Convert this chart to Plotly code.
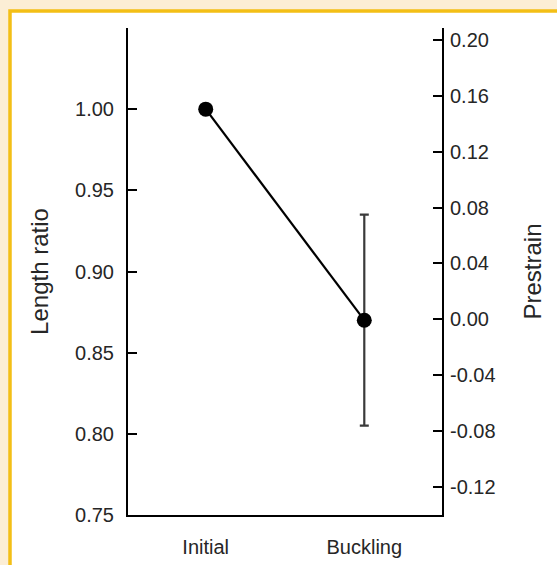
import plotly.graph_objects as go

# Data
categories = ["Initial", "Buckling"]
length_ratio = [1.00, 0.870]
error_plus = [None, 0.065]
error_minus = [None, 0.065]
prestrain = [0.149, 0.0]

left_ticks = [0.75, 0.80, 0.85, 0.90, 0.95, 1.00, 1.05]
left_ticktext = ["0.75", "0.80", "0.85", "0.90", "0.95", "1.00", ""]
right_ticks = [-0.12, -0.08, -0.04, 0.00, 0.04, 0.08, 0.12, 0.16, 0.20]
right_ticktext = ["-0.12", "-0.08", "-0.04", "0.00", "0.04", "0.08", "0.12", "0.16", "0.20"]

FONT = "Liberation Sans, Arial, Helvetica, sans-serif"
TXT = "#262626"
W, H = 557, 565
ML, MR, MT, MB = 128, 115, 28, 50
pw = W - ML - MR
ph = H - MT - MB

def px_x(p):
    return (p - ML) / pw

def px_y(p):
    return (H - MB - p) / ph

fig = go.Figure()

fig.add_trace(go.Scatter(
    x=categories, y=length_ratio, mode="lines+markers",
    line=dict(color="black", width=2.2),
    marker=dict(color="black", size=15),
    error_y=dict(type="data", symmetric=False,
                 array=[0 if v is None else v for v in error_plus],
                 arrayminus=[0 if v is None else v for v in error_minus],
                 color="#3a3a3a", thickness=2.2, width=4.5),
    hoverinfo="skip", showlegend=False,
))

fig.add_trace(go.Scatter(
    x=categories, y=prestrain, yaxis="y2", mode="markers",
    marker=dict(opacity=0), hoverinfo="skip", showlegend=False,
))

# Background panel with yellow border
fig.add_shape(type="rect", xref="paper", yref="paper",
              x0=px_x(10), x1=px_x(700), y0=px_y(700), y1=px_y(11),
              line=dict(color="#F3BF16", width=3.5), fillcolor="white", layer="below")

fig.update_layout(
    width=W, height=H,
    margin=dict(l=ML, r=MR, t=MT, b=MB, autoexpand=False),
    paper_bgcolor="#FCEED5",
    plot_bgcolor="rgba(0,0,0,0)",
    font=dict(family=FONT, size=20, color=TXT),
    xaxis=dict(
        type="category", range=[-0.49, 1.49], automargin=False,
        showline=True, linecolor="black", linewidth=2,
        ticks="", showgrid=False, zeroline=False,
        ticklabelstandoff=13,
    ),
    yaxis=dict(
        range=[0.75, 1.05], tickvals=left_ticks, ticktext=left_ticktext,
        automargin=False,
        showline=True, linecolor="black", linewidth=2,
        ticks="inside", ticklen=9, tickwidth=2, tickcolor="black",
        showgrid=False, zeroline=False,
        ticklabelstandoff=8,
        title=dict(text="Length ratio", standoff=20),
    ),
    yaxis2=dict(
        overlaying="y", side="right",
        range=[-0.140, 0.2085], tickvals=right_ticks, ticktext=right_ticktext,
        automargin=False,
        showline=True, linecolor="black", linewidth=2,
        ticks="inside", ticklen=9, tickwidth=2, tickcolor="black",
        showgrid=False, zeroline=False,
        ticklabelstandoff=2,
        title=dict(text="Prestrain", standoff=30),
    ),
)

fig.write_html("out.html", config={"displayModeBar": False},
               post_script="document.body.style.margin='0';document.body.style.background='#FCEED5';")
